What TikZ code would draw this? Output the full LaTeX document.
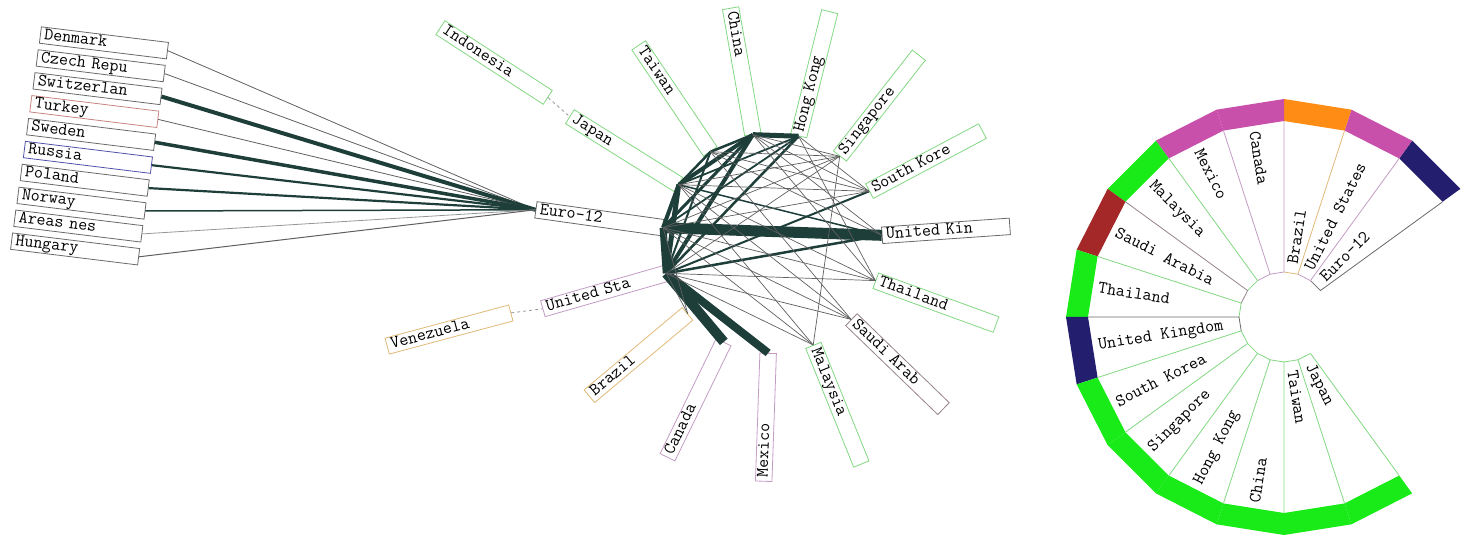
\documentclass[tikz,border=0pt]{standalone}
\usepackage{fontspec}
\usetikzlibrary{calc}

\definecolor{hubc}{RGB}{30,62,58}
\definecolor{thinedge}{RGB}{95,95,95}
\definecolor{lightedge}{RGB}{150,150,150}
\definecolor{asia}{RGB}{130,215,130}
\definecolor{euro}{RGB}{105,105,105}
\definecolor{amer}{RGB}{195,155,195}
\definecolor{braz}{RGB}{225,185,120}
\definecolor{arab}{RGB}{150,130,140}
\definecolor{turk}{RGB}{200,130,130}
\definecolor{russ}{RGB}{80,80,170}
\definecolor{bandnavy}{RGB}{35,30,110}
\definecolor{bandpink}{RGB}{200,80,170}
\definecolor{bandorange}{RGB}{255,140,20}
\definecolor{bandgreen}{RGB}{25,235,25}
\definecolor{bandred}{RGB}{165,40,40}

\begin{document}
\begin{tikzpicture}[x=1pt,y=1pt,
  lab/.style={draw,line width=0.8pt,font=\ttfamily\fontsize{17.5}{18}\selectfont,
    text width=120pt,align=left,inner xsep=4pt,inner ysep=1.5pt,
    text height=10.5pt,text depth=3pt},
  wlab/.style={font=\ttfamily\fontsize{17.5}{18}\selectfont,
    inner xsep=2pt,inner ysep=1pt},
  wt/.style={draw=hubc,line width=#1pt},
  fine/.style={draw=thinedge,line width=0.7pt},
  link/.style={draw=lightedge,line width=0.8pt,dashed}]

\useasboundingbox (0,0) rectangle (1468,-537);

% trade circle
\coordinate (ctr) at (772,-243);
\foreach \k/\txt/\col in {0/United Kin/euro, 1/South Kore/asia, 2/Singapore/asia,
    3/Hong Kong/asia, 4/China/asia, 5/Taiwan/asia, 6/Japan/asia, 7/Euro-12/euro,
    8/United Sta/amer, 9/Brazil/braz, 10/Canada/amer, 11/Mexico/amer,
    12/Malaysia/asia, 13/Saudi Arab/arab, 14/Thailand/asia}
{
  \pgfmathsetmacro\ang{4+24*\k}
  \pgfmathtruncatemacro\side{(\ang>90)&&(\ang<270)}
  \coordinate (p\k) at ($(ctr)+(\ang:110)$);
  \ifnum\side=1
    \pgfmathsetmacro\rot{\ang-180}
    \node [lab,draw=\col,rotate=\rot,anchor=east] (c\k) at (p\k) {\txt};
  \else
    \node [lab,draw=\col,rotate=\ang,anchor=west] (c\k) at (p\k) {\txt};
  \fi
}

\node [lab,draw=asia,rotate=-33,anchor=east] (indo) at ($(ctr)+(147:267)$) {Indonesia};
\node [lab,draw=braz,rotate=15,anchor=east] (venez) at ($(ctr)+(195:270)$) {Venezuela};
\path [link] (indo.east) edge (c6.west);
\path [link] (venez.east) edge (c8.west);

\path
  (p7) edge [wt=11] (p0)
  (p8) edge [wt=10] (p10)
       edge [wt=8] (p11)
       edge [wt=7] (p7)
       edge [wt=2.5] (p0)
       edge [wt=2] (p1)
  (p4) edge [wt=5] (p3)
       edge [wt=4] (p8)
       edge [wt=3] (p7)
  (p6) edge [wt=5] (p8)
       edge [wt=4] (p7)
       edge [wt=4] (p4)
       edge [wt=1.5] (p0)
  (p3) edge [wt=2.5] (p8)
       edge [wt=1.8] (p7)
       edge [wt=1.8] (p6)
  (p5) edge [wt=2.5] (p4)
       edge [wt=2.5] (p6)
       edge [wt=2] (p8)
;

\path
  (p6) edge [fine] (p1) edge [fine] (p2) edge [fine] (p14)
       edge [fine] (p12) edge [fine] (p13)
  (p7) edge [fine] (p1) edge [fine] (p2) edge [fine] (p14)
       edge [fine] (p12) edge [fine] (p13) edge [fine] (p9)
  (p8) edge [fine] (p2) edge [fine] (p14) edge [fine] (p12)
       edge [fine] (p13) edge [fine] (p9)
  (p4) edge [fine] (p1) edge [fine] (p2) edge [fine] (p0) edge [fine] (p14)
  (p5) edge [fine] (p1) edge [fine] (p2) edge [fine] (p13) edge [fine] (p0)
  (p3) edge [fine] (p14) edge [fine] (p1)
  (p2) edge [fine] (p12)
;

% european partners
\coordinate (hub) at (c7.west);
\foreach \i/\txt/\col/\w/\ecol in {0/Denmark/euro/0.8/thinedge, 1/Czech Repu/euro/0.8/thinedge,
    2/Switzerlan/euro/4/hubc, 3/Turkey/turk/0.8/thinedge, 4/Sweden/euro/3.5/hubc,
    5/Russia/russ/2.2/hubc, 6/Poland/euro/2.2/hubc, 7/Norway/euro/1.5/hubc,
    8/Areas nes/euro/0.8/lightedge, 9/Hungary/euro/1/thinedge}
{
  \node [lab,draw=\col,rotate=-7,anchor=west] (e\i) at (40-3.2*\i,-35-22.9*\i) {\txt};
  \draw [\ecol,line width=\w pt] (e\i.east) -- (hub);
}

% wheel
\coordinate (wc) at (1284,-317);
\foreach \k/\txt/\col/\lcol in {0/Euro-12/bandnavy/euro, 1/United States/bandpink/amer,
    2/Brazil/bandorange/braz, 3/Canada/bandpink/amer, 4/Mexico/bandpink/amer,
    5/Malaysia/bandgreen/asia, 6/Saudi Arabia/bandred/arab, 7/Thailand/bandgreen/asia,
    8/United Kingdom/bandnavy/euro, 9/South Korea/bandgreen/asia, 10/Singapore/bandgreen/asia,
    11/Hong Kong/bandgreen/asia, 12/China/bandgreen/asia, 13/Taiwan/bandgreen/asia,
    14/Japan/bandgreen/asia}
{
  \pgfmathsetmacro\a{36+18*\k}
  \pgfmathsetmacro\b{\a+18}
  \pgfmathsetmacro\m{\a+9}
  \pgfmathtruncatemacro\side{(\m>90)&&(\m<270)}
  \fill [\col] ($(wc)+(\a:196)$) -- ($(wc)+(\a:218)$) -- ($(wc)+(\b:218)$)
    -- ($(wc)+(\b:196)$) -- cycle;
  \draw [\lcol,line width=0.8pt] ($(wc)+(\a:196)$) -- ($(wc)+(\a:45)$) -- ($(wc)+(\b:45)$);
  \ifnum\side=1
    \pgfmathsetmacro\rot{\m-180}
    \node [wlab,rotate=\rot,anchor=west] (w\k) at ($(wc)+(\m:190)$) {\txt};
  \else
    \node [wlab,rotate=\m,anchor=west] (w\k) at ($(wc)+(\m:52)$) {\txt};
  \fi
}
\draw [asia,line width=0.8pt] ($(wc)+(306:45)$) -- ($(wc)+(306:196)$);

\end{tikzpicture}
\end{document}
